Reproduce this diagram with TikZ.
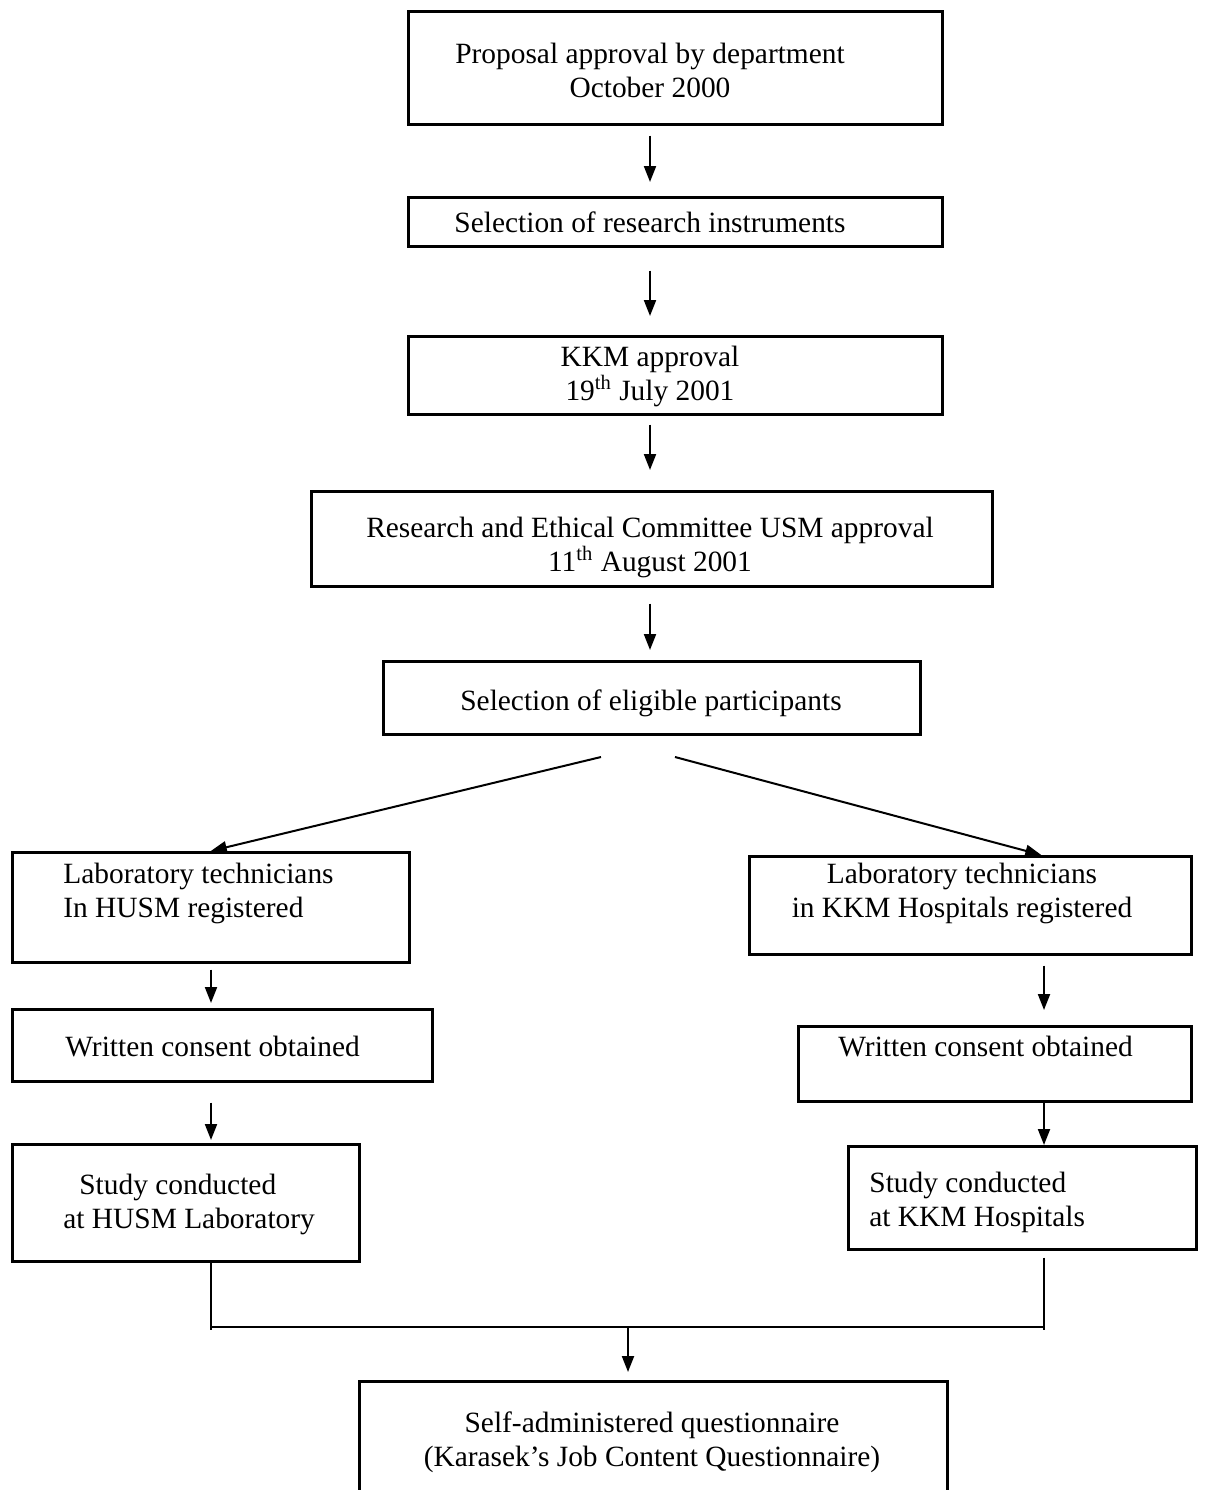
\documentclass[tikz,border=0pt]{standalone}
\usepackage{fontspec}
\setmainfont{Liberation Serif}
\usetikzlibrary{arrows.meta,calc}
\begin{document}
\begin{tikzpicture}[x=0.5pt,y=-0.5pt,
  box/.style={draw,line width=1.3pt,inner sep=0pt,anchor=north west},
  txt/.style={inner sep=0pt,font=\fontsize{14.7}{17}\selectfont},
  conn/.style={line width=1pt},
  arr/.style={conn,-{Triangle[width=6pt,length=8pt]}}]
\clip (0,0) rectangle (1211,1490);
% boxes
\node[box,minimum width=267pt,minimum height=56.5pt] (p1) at (407,10) {};
\node[box,minimum width=267pt,minimum height=24.5pt] (p2) at (407,196) {};
\node[box,minimum width=267pt,minimum height=39pt] (p3) at (407,335) {};
\node[box,minimum width=340.5pt,minimum height=47.5pt] (p4) at (310,490) {};
\node[box,minimum width=268.5pt,minimum height=36.5pt] (p5) at (382,660) {};
\node[box,minimum width=198.5pt,minimum height=55pt] (p6) at (11,851) {};
\node[box,minimum width=221pt,minimum height=49pt] (p7) at (748,855) {};
\node[box,minimum width=210pt,minimum height=36pt] (p8) at (11,1008) {};
\node[box,minimum width=196.5pt,minimum height=37.5pt] (p9) at (797,1025) {};
\node[box,minimum width=173.5pt,minimum height=58.5pt] (p10) at (11,1143) {};
\node[box,minimum width=174pt,minimum height=51.5pt] (p11) at (847,1145) {};
\node[box,minimum width=294pt,minimum height=70pt] (p12) at (358,1380) {};
% texts
\node[txt,align=center] (t1) at (650,70) {Proposal approval by department\\October 2000};
\node[txt] (t2) at (650,222) {Selection of research instruments};
\node[txt,align=center] (t3) at (650,376) {KKM approval\\19\textsuperscript{th} July 2001};
\node[txt,align=center] (t4) at (650,547) {Research and Ethical Committee USM approval\\11\textsuperscript{th} August 2001};
\node[txt] (t5) at (651,703) {Selection of eligible participants};
\node[txt,align=left,anchor=west] (t6) at (63,893) {Laboratory technicians\\In HUSM registered};
\node[txt,align=center] (t7) at (962,893) {Laboratory technicians\\in KKM Hospitals registered};
\node[txt,anchor=west] (t8) at (65,1047) {Written consent obtained};
\node[txt,anchor=west] (t9) at (838,1047) {Written consent obtained};
\node[txt,align=left,anchor=west] (t10) at (63,1204) {\hspace*{8pt}Study conducted\\at HUSM Laboratory};
\node[txt,align=left,anchor=west] (t11) at (869,1202) {Study conducted\\at KKM Hospitals};
\node[txt,align=center] (t12) at (652,1442) {Self-administered questionnaire\\(Karasek’s Job Content Questionnaire)};
% helper coordinates
\coordinate (lc) at (211,0);
\coordinate (rc) at (1044,0);
\coordinate (s1) at (601,757);
\coordinate (s2) at (675,757);
\coordinate (m) at (628,1327);
% main column arrows
\draw[arr,shorten <=5pt,shorten >=7pt] (p1.south -| t1) -- (p2.north -| t1);
\draw[arr,shorten <=11.5pt,shorten >=9.5pt] (p2.south -| t1) -- (p3.north -| t1);
\draw[arr,shorten <=4.5pt,shorten >=10pt] (p3.south -| t1) -- (p4.north -| t1);
\draw[arr,shorten <=8pt,shorten >=5pt] (p4.south -| t1) -- (p5.north -| t1);
% split
\draw[arr] (s1) -- (p6.north);
\draw[arr] (s2) -- ([xshift=35.5pt]p7.north);
% left column
\draw[arr,shorten <=3pt,shorten >=2.5pt] (p6.south -| lc) -- (p8.north -| lc);
\draw[arr,shorten <=10pt,shorten >=1.5pt] (p8.south -| lc) -- (p10.north -| lc);
% right column
\draw[arr,shorten <=5pt,shorten >=7.5pt] (p7.south -| rc) -- (p9.north -| rc);
\draw[arr] (p9.south -| rc) -- (p11.north -| rc);
% merge
\draw[conn] (p10.south -| lc) -- ([yshift=-1.5pt]lc |- m);
\draw[conn,shorten <=3.5pt] (p11.south -| rc) -- ([yshift=-1.5pt]rc |- m);
\draw[conn] (lc |- m) -- (rc |- m);
\draw[arr,shorten >=4pt] (m) -- (p12.north -| m);
\end{tikzpicture}
\end{document}
